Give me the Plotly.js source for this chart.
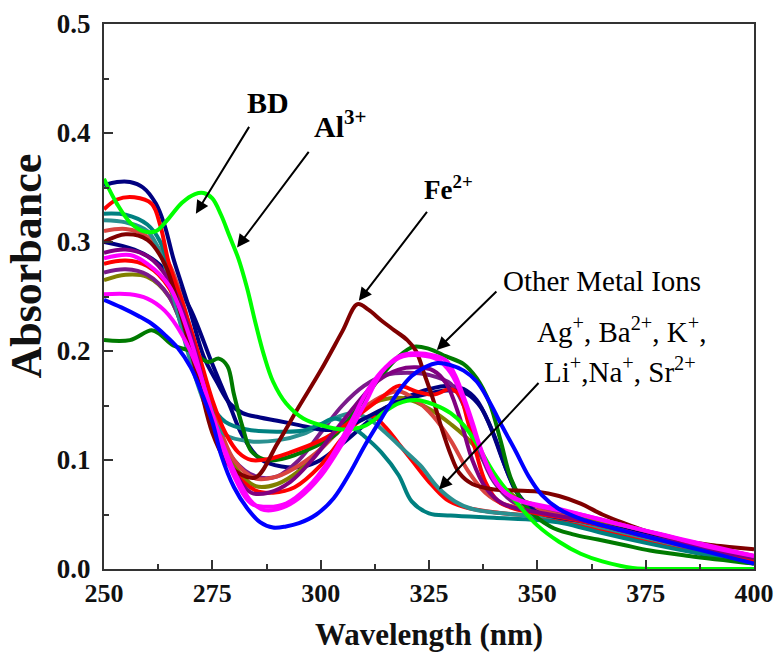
<!DOCTYPE html>
<html>
<head>
<meta charset="utf-8">
<script src="https://cdn.plot.ly/plotly-3.0.1.min.js"></script>
<style>
  html, body { margin: 0; padding: 0; background: #fff; }
  #chart { width: 774px; height: 655px; }
</style>
</head>
<body>
<div id="chart"></div>
<script>
// UV-Vis absorbance spectra of BD alone and with various metal ions.
// Each series: wavelengths (nm) and absorbance values.

const limeX = [250, 253, 256, 259, 262, 265, 268, 271, 273, 275, 277, 279, 281, 283, 285, 287, 289, 292, 296, 300, 305, 310, 315, 318, 322, 326, 330, 333, 336, 340, 345, 350, 355, 360, 365, 372, 380, 390, 400];
const limeY = [0.358, 0.335, 0.318, 0.310, 0.310, 0.322, 0.336, 0.344, 0.345, 0.340, 0.325, 0.305, 0.285, 0.258, 0.225, 0.195, 0.172, 0.152, 0.138, 0.132, 0.128, 0.131, 0.145, 0.152, 0.155, 0.151, 0.143, 0.132, 0.115, 0.088, 0.062, 0.040, 0.025, 0.014, 0.007, 0.001, 0.000, 0.000, 0.000];

const maroonX = [250, 255, 260, 264, 268, 272, 275, 278, 281, 285, 290, 295, 300, 305, 308.5, 311, 314, 317, 320, 322, 324, 326, 328, 330, 332, 335, 340, 345, 350, 355, 360, 365, 370, 375, 380, 385, 390, 395, 400];
const maroonY = [0.300, 0.307, 0.302, 0.280, 0.230, 0.170, 0.125, 0.100, 0.088, 0.084, 0.115, 0.149, 0.182, 0.218, 0.243, 0.238, 0.228, 0.219, 0.210, 0.200, 0.178, 0.155, 0.128, 0.105, 0.088, 0.078, 0.073, 0.072, 0.071, 0.067, 0.060, 0.050, 0.042, 0.035, 0.030, 0.025, 0.022, 0.020, 0.018];

const blueX = [250, 254, 258, 261, 264, 267, 270, 272, 275, 277, 280, 283, 286, 289, 292, 295, 299, 303, 307, 310, 314, 318, 321, 324, 327, 330, 333, 336, 339, 342, 345, 348, 351, 355, 360, 365, 370, 375, 380, 385, 390, 395, 400];
const blueY = [0.247, 0.240, 0.232, 0.225, 0.215, 0.203, 0.185, 0.167, 0.135, 0.105, 0.075, 0.056, 0.043, 0.038, 0.039, 0.042, 0.050, 0.065, 0.090, 0.112, 0.138, 0.163, 0.177, 0.185, 0.189, 0.187, 0.182, 0.172, 0.153, 0.130, 0.108, 0.085, 0.068, 0.055, 0.046, 0.040, 0.035, 0.030, 0.025, 0.020, 0.015, 0.010, 0.005];

const navyAX = [250, 253, 256, 259, 262, 264, 266, 268, 270, 273, 276, 279, 282, 286, 290, 295, 300, 304, 308, 312, 316, 320, 325, 330, 334, 337, 340, 343, 346, 350, 360, 370, 380, 390, 400];
const navyAY = [0.352, 0.355, 0.355, 0.350, 0.335, 0.315, 0.285, 0.260, 0.235, 0.195, 0.172, 0.152, 0.143, 0.139, 0.136, 0.132, 0.128, 0.128, 0.134, 0.142, 0.150, 0.156, 0.161, 0.164, 0.160, 0.148, 0.123, 0.090, 0.066, 0.052, 0.044, 0.036, 0.026, 0.016, 0.006];

const navyBX = [250, 257, 262, 266, 270, 275, 279, 282, 286, 291, 296, 300, 305, 310, 315, 320, 325, 330, 333, 336, 339, 342, 345, 348, 352, 360, 375, 390, 400];
const navyBY = [0.300, 0.293, 0.282, 0.265, 0.238, 0.188, 0.150, 0.122, 0.101, 0.094, 0.094, 0.100, 0.115, 0.132, 0.148, 0.158, 0.165, 0.168, 0.165, 0.155, 0.132, 0.100, 0.072, 0.058, 0.050, 0.042, 0.026, 0.012, 0.005];

const redAX = [250, 253, 257, 261, 263, 265, 268, 272, 275, 278, 281, 284, 288, 293, 300, 305, 310, 314, 318, 322, 326, 330, 332, 334, 336, 338, 341, 345, 350, 360, 370, 380, 390, 400];
const redAY = [0.330, 0.339, 0.341, 0.335, 0.315, 0.280, 0.245, 0.195, 0.155, 0.125, 0.107, 0.100, 0.101, 0.107, 0.118, 0.130, 0.145, 0.157, 0.168, 0.163, 0.160, 0.165, 0.160, 0.135, 0.105, 0.080, 0.062, 0.055, 0.051, 0.044, 0.035, 0.025, 0.016, 0.008];

const redBX = [250, 255, 260, 265, 270, 275, 280, 285, 289, 294, 300, 305, 309, 312, 315, 318, 321, 325, 329, 333, 340, 350, 360, 375, 390, 400];
const redBY = [0.280, 0.283, 0.278, 0.258, 0.200, 0.135, 0.090, 0.072, 0.070, 0.075, 0.095, 0.120, 0.136, 0.140, 0.130, 0.115, 0.100, 0.080, 0.064, 0.057, 0.052, 0.048, 0.040, 0.027, 0.014, 0.008];

const indianX = [250, 255, 260, 265, 270, 275, 280, 285, 290, 295, 300, 305, 310, 315, 318, 322, 326, 330, 334, 338, 342, 350, 360, 375, 390, 400];
const indianY = [0.310, 0.312, 0.305, 0.280, 0.220, 0.150, 0.100, 0.083, 0.085, 0.095, 0.110, 0.130, 0.148, 0.160, 0.163, 0.155, 0.140, 0.118, 0.090, 0.070, 0.060, 0.054, 0.045, 0.030, 0.016, 0.010];

const tealAX = [250, 255, 260, 263, 266, 270, 274, 278, 283, 290, 296, 300, 303, 306, 310, 314, 318, 321, 325, 330, 340, 350, 356, 365, 375, 385, 400];
const tealAY = [0.326, 0.325, 0.316, 0.300, 0.260, 0.200, 0.155, 0.135, 0.128, 0.126, 0.127, 0.133, 0.138, 0.134, 0.122, 0.107, 0.086, 0.062, 0.051, 0.049, 0.047, 0.045, 0.042, 0.033, 0.024, 0.016, 0.006];

const tealBX = [250, 255, 260, 263, 266, 270, 274, 278, 284, 290, 296, 302, 307, 311, 315, 319, 323, 327, 331, 335, 345, 355, 365, 380, 400];
const tealBY = [0.320, 0.318, 0.310, 0.290, 0.250, 0.190, 0.145, 0.123, 0.117, 0.118, 0.124, 0.136, 0.143, 0.138, 0.125, 0.110, 0.095, 0.075, 0.062, 0.055, 0.050, 0.047, 0.038, 0.024, 0.008];

const greenX = [250, 256, 261, 263, 266, 270, 274, 276.5, 278.5, 280, 282, 284, 287.5, 291, 295, 303, 308, 313, 318, 321.5, 325, 329, 333, 336, 339, 341.5, 344, 347.5, 353, 358, 364, 370, 376, 385, 400];
const greenY = [0.210, 0.210, 0.219, 0.215, 0.205, 0.200, 0.190, 0.193, 0.186, 0.160, 0.130, 0.108, 0.100, 0.101, 0.106, 0.122, 0.145, 0.172, 0.195, 0.204, 0.202, 0.195, 0.188, 0.175, 0.152, 0.118, 0.082, 0.057, 0.039, 0.032, 0.027, 0.022, 0.017, 0.012, 0.005];

const oliveX = [250, 255, 260, 265, 270, 275, 280, 285, 290, 295, 300, 305, 310, 315, 320, 325, 330, 335, 340, 345, 350, 360, 370, 380, 390, 400];
const oliveY = [0.265, 0.270, 0.268, 0.250, 0.200, 0.140, 0.095, 0.076, 0.078, 0.090, 0.110, 0.130, 0.148, 0.156, 0.156, 0.147, 0.133, 0.115, 0.085, 0.066, 0.058, 0.048, 0.038, 0.028, 0.020, 0.012];

const purpleAX = [250, 255, 260, 265, 270, 275, 280, 284, 288, 293, 298, 303, 308, 313, 318, 322, 326, 329, 332, 335, 338, 342, 350, 360, 375, 400];
const purpleAY = [0.290, 0.293, 0.287, 0.265, 0.215, 0.140, 0.090, 0.070, 0.070, 0.080, 0.100, 0.125, 0.150, 0.172, 0.183, 0.185, 0.182, 0.170, 0.140, 0.100, 0.075, 0.060, 0.052, 0.045, 0.030, 0.010];

const purpleBX = [250, 255, 260, 265, 270, 275, 280, 285, 290, 295, 300, 305, 310, 315, 320, 325, 330, 333, 336, 340, 345, 355, 370, 400];
const purpleBY = [0.272, 0.275, 0.270, 0.250, 0.200, 0.140, 0.100, 0.085, 0.085, 0.100, 0.125, 0.150, 0.168, 0.178, 0.180, 0.178, 0.170, 0.150, 0.115, 0.080, 0.060, 0.050, 0.035, 0.010];

const magentaAX = [250, 256, 260, 264, 268, 272, 276, 280, 284, 287, 291, 295, 300, 305, 310, 314, 318, 322, 326, 329, 331, 333, 335, 337, 340, 344, 350, 360, 370, 380, 390, 400];
const magentaAY = [0.252, 0.252, 0.248, 0.237, 0.215, 0.180, 0.130, 0.090, 0.062, 0.054, 0.056, 0.065, 0.085, 0.115, 0.150, 0.180, 0.195, 0.198, 0.196, 0.191, 0.178, 0.158, 0.135, 0.110, 0.082, 0.066, 0.058, 0.050, 0.040, 0.030, 0.020, 0.012];

const magentaBX = [250, 256, 260, 265, 270, 275, 280, 284, 288, 292, 297, 302, 307, 311, 315, 319, 323, 327, 330, 333, 336, 339, 342, 346, 355, 370, 400];
const magentaBY = [0.285, 0.288, 0.280, 0.260, 0.210, 0.140, 0.085, 0.060, 0.057, 0.060, 0.075, 0.100, 0.135, 0.165, 0.185, 0.195, 0.196, 0.192, 0.180, 0.155, 0.120, 0.090, 0.072, 0.063, 0.055, 0.040, 0.012];

// Draw order: earlier series sit underneath later ones.
const seriesList = [
  { x: navyBX,    y: navyBY,    color: '#000080' },
  { x: oliveX,    y: oliveY,    color: '#808000' },
  { x: purpleBX,  y: purpleBY,  color: '#7a1a8a' },
  { x: indianX,   y: indianY,   color: '#d9443f' },
  { x: redBX,     y: redBY,     color: '#ff0000' },
  { x: tealBX,    y: tealBY,    color: '#2a9090' },
  { x: navyAX,    y: navyAY,    color: '#000080' },
  { x: tealAX,    y: tealAY,    color: '#008080' },
  { x: greenX,    y: greenY,    color: '#007a00' },
  { x: redAX,     y: redAY,     color: '#ff0000' },
  { x: purpleAX,  y: purpleAY,  color: '#800080' },
  { x: maroonX,   y: maroonY,   color: '#800000' },
  { x: limeX,     y: limeY,     color: '#00ff00' },
  { x: magentaBX, y: magentaBY, color: '#ff00ff' },
  { x: magentaAX, y: magentaAY, color: '#ff00ff' },
  { x: blueX,     y: blueY,     color: '#0000ff' }
];

const traces = seriesList.map(s => ({
  type: 'scatter',
  mode: 'lines',
  x: s.x,
  y: s.y,
  line: { color: s.color, width: 4, shape: 'spline', smoothing: 1 },
  hoverinfo: 'x+y',
  showlegend: false
}));

const serif = 'Liberation Serif, Times New Roman, serif';

function arrow(tailX, tailY, headX, headY) {
  return {
    x: headX, y: headY, ax: tailX, ay: tailY,
    xref: 'x', yref: 'y', axref: 'x', ayref: 'y',
    text: '', showarrow: true,
    arrowhead: 2, arrowsize: 1.3, arrowwidth: 2, arrowcolor: '#000'
  };
}

function label(x, y, text, size, bold) {
  return {
    x: x, y: y, xref: 'x', yref: 'y', text: text, showarrow: false,
    font: { family: serif, size: size, color: '#000', weight: bold ? 700 : 400 }
  };
}

const annotations = [
  label(287.8, 0.428, 'BD', 30, true),
  arrow(283.7, 0.407, 271.2, 0.326),
  label(304.5, 0.408, 'Al<sup>3+</sup>', 30, true),
  arrow(297.5, 0.384, 280.7, 0.295),
  label(329.5, 0.350, 'Fe<sup>2+</sup>', 27, true),
  arrow(324.8, 0.329, 308.8, 0.246),
  label(365.0, 0.264, 'Other Metal Ions', 29, false),
  arrow(340.9, 0.256, 326.8, 0.201),
  label(369.5, 0.219, 'Ag<sup>+</sup>, Ba<sup>2+</sup>, K<sup>+</sup>,', 29, false),
  label(369.0, 0.183, 'Li<sup>+</sup>,Na<sup>+</sup>, Sr<sup>2+</sup>', 29, false),
  arrow(350.6, 0.172, 327.3, 0.073),
  // vertical axis title, placed by hand so it sits a little above centre
  {
    x: 0, y: 0.555, xref: 'paper', yref: 'paper',
    xanchor: 'center', yanchor: 'middle', xshift: -77,
    text: 'Absorbance', textangle: -90, showarrow: false,
    font: { family: serif, size: 44, color: '#111', weight: 700 }
  }
];

const layout = {
  width: 774,
  height: 655,
  margin: { l: 104, r: 20, t: 24, b: 86 },
  paper_bgcolor: '#ffffff',
  plot_bgcolor: '#ffffff',
  showlegend: false,
  xaxis: {
    range: [250, 400],
    dtick: 25,
    tick0: 250,
    ticks: 'inside',
    ticklen: 9,
    tickwidth: 2,
    tickcolor: '#333',
    minor: { dtick: 12.5, ticks: 'inside', ticklen: 5, tickwidth: 2, tickcolor: '#333' },
    showline: true,
    linecolor: '#333',
    linewidth: 2,
    mirror: true,
    showgrid: false,
    zeroline: false,
    ticklabeloverflow: 'allow',
    tickfont: { family: serif, size: 26, color: '#111', weight: 700 },
    title: { text: 'Wavelength (nm)', font: { family: serif, size: 31, color: '#111', weight: 700 }, standoff: 16 }
  },
  yaxis: {
    range: [0, 0.5],
    dtick: 0.1,
    tick0: 0,
    tickformat: '.1f',
    ticks: 'inside',
    ticklen: 9,
    tickwidth: 2,
    tickcolor: '#333',
    minor: { dtick: 0.05, ticks: 'inside', ticklen: 5, tickwidth: 2, tickcolor: '#333' },
    showline: true,
    linecolor: '#333',
    linewidth: 2,
    mirror: true,
    showgrid: false,
    zeroline: false,
    ticklabelstandoff: 6,
    tickfont: { family: serif, size: 27, color: '#111', weight: 700 }
  },
  annotations: annotations
};

Plotly.newPlot('chart', traces, layout, { displayModeBar: false, staticPlot: true });
</script>
</body>
</html>
